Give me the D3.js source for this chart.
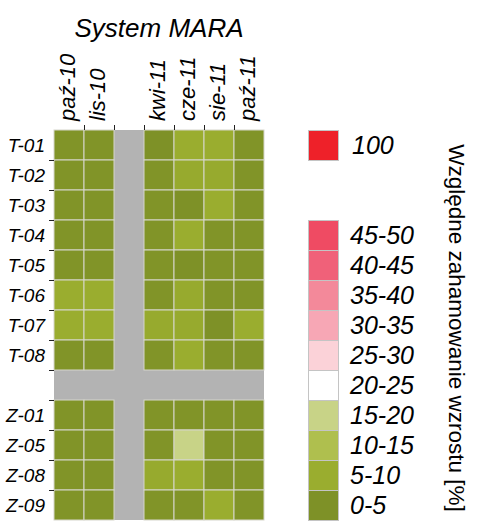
<!DOCTYPE html>
<html>
<head>
<meta charset="utf-8">
<script src="https://cdn.jsdelivr.net/npm/d3@7"></script>
<style>
  body { margin: 0; background: #fff; }
  text { font-family: "Liberation Sans", Arial, sans-serif; }
</style>
</head>
<body>
<svg id="chart" width="484" height="523"></svg>
<script>
// columns, "" marks the empty (grey) gap
const months = ["paź-10", "lis-10", "", "kwi-11", "cze-11", "sie-11", "paź-11"];
const sites = ["T-01", "T-02", "T-03", "T-04", "T-05", "T-06", "T-07", "T-08", "",
  "Z-01", "Z-05", "Z-08", "Z-09"];

// relative growth inhibition [%], null = no data
const T01 = [3, 3, null, 2.5, 7.5, 7.5, 3];
const T02 = [3, 3, null, 3, 7, 7, 3];
const T03 = [3, 3, null, 3, 2.5, 7.5, 3];
const T04 = [3, 3, null, 3, 7.5, 3, 3];
const T05 = [3, 3, null, 3, 2.5, 3, 3];
const T06 = [7.5, 7.5, null, 3, 7, 3, 3];
const T07 = [7.5, 7.5, null, 7, 7, 2.5, 7.5];
const T08 = [3, 3, null, 3, 7.5, 3, 3];
const Z01 = [3, 3, null, 3, 3, 3, 3];
const Z05 = [3, 3, null, 3, 17.5, 3, 3];
const Z08 = [3, 3, null, 7, 7.5, 3, 3];
const Z09 = [3, 3, null, 3, 3, 7.5, 3];
const values = [T01, T02, T03, T04, T05, T06, T07, T08, null, Z01, Z05, Z08, Z09];

// legend classes, top to bottom
const legendLabels = ["100", "45-50", "40-45", "35-40", "30-35", "25-30", "20-25",
  "15-20", "10-15", "5-10", "0-5"];
const legendColors = ["#ee2129", "#ef4b63", "#f06179", "#f3899a", "#f7a7b5", "#fbd2d8",
  "#ffffff", "#c8d387", "#afbf4e", "#9aad2f", "#7e9127"];
const legendMids = [100, 47.5, 42.5, 37.5, 32.5, 27.5, 22.5, 17.5, 12.5, 7.5, 2.5];
// rows of the grid the legend boxes line up with
const legendRows = ["T-01", "T-04", "T-05", "T-06", "T-07", "T-08", "", "Z-01", "Z-05", "Z-08", "Z-09"];

const svg = d3.select("#chart");

const x = d3.scaleBand().domain(months).range([54, 264]);
const y = d3.scaleBand().domain(sites).range([130, 520]);

const color = d3
  .scaleLinear()
  .domain(legendMids.slice().reverse())
  .range(legendColors.slice().reverse())
  .clamp(true);

// title
svg
  .append("text")
  .attr("x", (x.range()[0] + x.range()[1]) / 2)
  .attr("y", 37)
  .attr("text-anchor", "middle")
  .style("font-size", "26px")
  .style("font-style", "italic")
  .text("System MARA");

// grey gaps (missing month / separator row)
svg
  .append("rect")
  .attr("x", x(""))
  .attr("y", y.range()[0])
  .attr("width", x.bandwidth())
  .attr("height", y.range()[1] - y.range()[0])
  .attr("fill", "#b3b3b3");
svg
  .append("rect")
  .attr("x", x.range()[0])
  .attr("y", y(""))
  .attr("width", x.range()[1] - x.range()[0])
  .attr("height", y.bandwidth())
  .attr("fill", "#b3b3b3");

// cells
const cells = [];
sites.forEach((site, i) => {
  if (!values[i]) return;
  values[i].forEach((v, j) => {
    if (v == null) return;
    cells.push({ site, month: months[j], v });
  });
});

svg
  .append("g")
  .selectAll("rect")
  .data(cells)
  .join("rect")
  .attr("x", (d) => x(d.month))
  .attr("y", (d) => y(d.site))
  .attr("width", x.bandwidth())
  .attr("height", y.bandwidth())
  .attr("fill", (d) => color(d.v))
  .attr("stroke", "#d6d6cc")
  .attr("stroke-width", 1);

// ticks on the band edges
svg
  .append("g")
  .selectAll("line")
  .data(months.slice(1))
  .join("line")
  .attr("x1", (d) => x(d) + 0.5)
  .attr("x2", (d) => x(d) + 0.5)
  .attr("y1", y.range()[0] - 5)
  .attr("y2", y.range()[0])
  .attr("stroke", "#222");
svg
  .append("g")
  .selectAll("line")
  .data(sites.slice(1))
  .join("line")
  .attr("x1", x.range()[0] - 5)
  .attr("x2", x.range()[0])
  .attr("y1", (d) => y(d) + 0.5)
  .attr("y2", (d) => y(d) + 0.5)
  .attr("stroke", "#222");

// month labels, rotated
svg
  .append("g")
  .selectAll("text")
  .data(months.filter((m) => m))
  .join("text")
  .attr("transform", (d) => `translate(${x(d) + x.bandwidth() / 2 + 6}, ${y.range()[0] - 9}) rotate(-90)`)
  .style("font-size", "22px")
  .style("font-style", "italic")
  .text((d) => d);

// site labels
svg
  .append("g")
  .selectAll("text")
  .data(sites.filter((s) => s))
  .join("text")
  .attr("x", 45)
  .attr("y", (d) => y(d) + y.bandwidth() / 2)
  .attr("dy", "0.38em")
  .attr("text-anchor", "end")
  .style("font-size", "19px")
  .style("font-style", "italic")
  .text((d) => d);

// legend
const legend = svg.append("g");
legend
  .selectAll("rect")
  .data(legendLabels)
  .join("rect")
  .attr("x", 308.5)
  .attr("y", (d, i) => y(legendRows[i]) + 0.5)
  .attr("width", 30)
  .attr("height", y.bandwidth())
  .attr("fill", (d, i) => legendColors[i])
  .attr("stroke", "#c4c4c4")
  .attr("stroke-width", 1);
legend
  .selectAll("text")
  .data(legendLabels)
  .join("text")
  .attr("x", (d, i) => (i == 0 ? 352 : 350))
  .attr("y", (d, i) => y(legendRows[i]) + y.bandwidth() / 2)
  .attr("dy", "0.35em")
  .style("font-size", "25px")
  .style("font-style", "italic")
  .text((d) => d);

// legend title, reading downwards
svg
  .append("text")
  .attr("transform", `translate(449, 328) rotate(90)`)
  .attr("text-anchor", "middle")
  .style("font-size", "22.5px")
  .text("Względne zahamowanie wzrostu [%]");
</script>
</body>
</html>
